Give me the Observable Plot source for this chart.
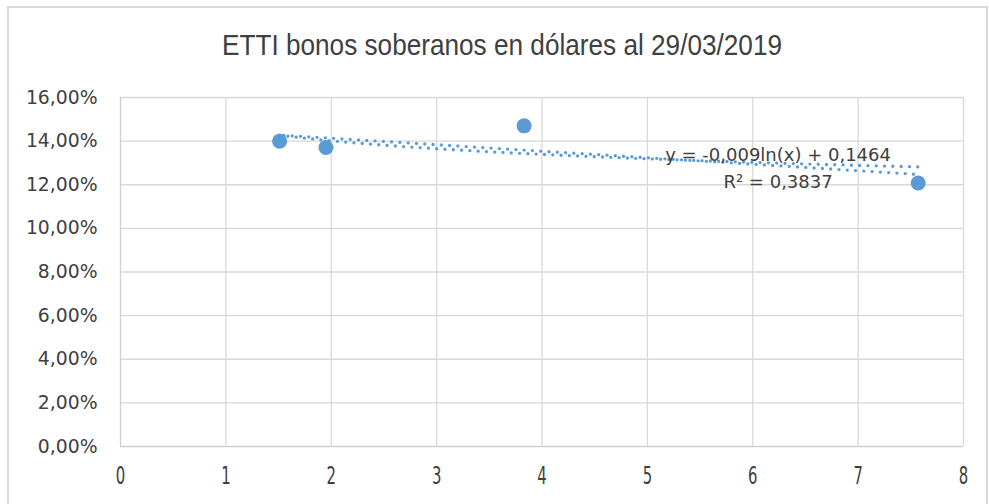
<!DOCTYPE html>
<html><head><meta charset="utf-8">
<script src="https://cdn.jsdelivr.net/npm/d3@7"></script>
<script src="https://cdn.jsdelivr.net/npm/@observablehq/plot@0.6"></script>
<style>
body{margin:0;background:#fff;}
#wrap{position:relative;width:989px;height:504px;overflow:hidden;background:#fff;}
#frame{position:absolute;left:7px;top:6px;width:981px;height:540px;border:2px solid #d9d9d9;box-sizing:border-box;pointer-events:none;}
#title{position:absolute;left:0;top:0;width:989px;height:80px;}
#title span{position:absolute;left:502px;top:31px;font-family:"Liberation Sans Narrow","Liberation Sans",Arial,sans-serif;font-size:29px;line-height:1;color:#404040;white-space:nowrap;transform-origin:0 0;}
#chart{position:absolute;left:0;top:80px;}
</style></head>
<body><div id="wrap"><div id="frame"></div><div id="title"><span id="tt"></span></div><div id="chart"></div></div>
<script>
const titleText = "ETTI bonos soberanos en dólares al 29/03/2019";
const bondX = [1.51, 1.95, 3.83, 7.57];          // duración (años)
const bondY = [0.1400, 0.1371, 0.1470, 0.1208];  // TIR
const xTicks = [0, 1, 2, 3, 4, 5, 6, 7, 8];
const yTicks = [0, 0.02, 0.04, 0.06, 0.08, 0.10, 0.12, 0.14, 0.16];
const trendA = -0.009, trendB = 0.1464;         // y = a·ln(x) + b
const eqLines = ["y = -0,009ln(x) + 0,1464", "R² = 0,3837"];
const eqX = [6.24, 6.24];
const eqY = [0.1335, 0.1212];

const blue = "#5b9bd5", grid = "#d9d9d9", ink = "#404040";

const data = bondX.map((x, i) => ({x, y: bondY[i]}));
const x0 = d3.min(bondX), x1 = d3.max(bondX);
const trend = d3.range(0, 61).map(i => {
  const x = x0 + (x1 - x0) * i / 60;
  return {x, y: trendA * Math.log(x) + trendB};
});
const eq = eqLines.map((t, i) => ({t, x: eqX[i], y: eqY[i]}));
const pct = d => (d * 100).toFixed(2).replace(".", ",") + "%";

// title, squeezed to reference width
const tt = document.getElementById("tt");
tt.textContent = titleText;
const tw = tt.getBoundingClientRect().width;
const s = 560 / tw;
tt.style.transform = `scaleX(${s}) translateX(-50%)`;

const chart = Plot.plot({
  width: 989, height: 424,
  marginLeft: 120, marginRight: 26, marginTop: 17, marginBottom: 58,
  style: {fontFamily: "DejaVu Sans", fontSize: "17px", color: ink, background: "transparent"},
  x: {domain: [0, 8], label: null},
  y: {domain: [0, 0.16], label: null},
  marks: [
    Plot.gridX(xTicks.filter(d => d > 0), {stroke: grid, strokeOpacity: 1, strokeWidth: 1.3}),
    Plot.gridY(yTicks.filter(d => d > 0), {stroke: grid, strokeOpacity: 1, strokeWidth: 1.3}),
    Plot.ruleX([0], {stroke: "#cfcfcf", strokeWidth: 1.3}),
    Plot.ruleY([0], {stroke: "#cfcfcf", strokeWidth: 1.3}),
    Plot.axisX(xTicks, {tickSize: 0, tickPadding: 20, fontSize: 24, fill: ink, label: null}),
    Plot.axisY(yTicks, {tickSize: 0, tickPadding: 23, tickFormat: pct, fontSize: 18.8, fill: ink, label: null}),
    Plot.linearRegressionY(data, {x: "x", y: "y", ci: 0, stroke: blue, strokeWidth: 3.3,
      strokeDasharray: "0 8.3", strokeLinecap: "round", strokeDashoffset: 4}),
    Plot.line(trend, {x: "x", y: "y", stroke: blue, strokeWidth: 3.3,
      strokeDasharray: "0 8.3", strokeLinecap: "round"}),
    Plot.dot(data, {x: "x", y: "y", r: 7.5, fill: blue, stroke: "none"}),
    Plot.text(eq, {x: "x", y: "y", text: "t", fontSize: 18, fill: ink})
  ]
});
document.getElementById("chart").appendChild(chart);

// condense x tick labels like the reference
d3.select(chart).selectAll("g[aria-label='x-axis tick label'] text").each(function() {
  const b = this.getBBox();
  const cx = b.x + b.width / 2, cy = b.y + b.height / 2;
  const t = this.getAttribute("transform") || "";
  this.setAttribute("transform", `${t} translate(${cx},${cy}) scale(0.62,1) translate(${-cx},${-cy})`);
});
</script>
</body></html>
